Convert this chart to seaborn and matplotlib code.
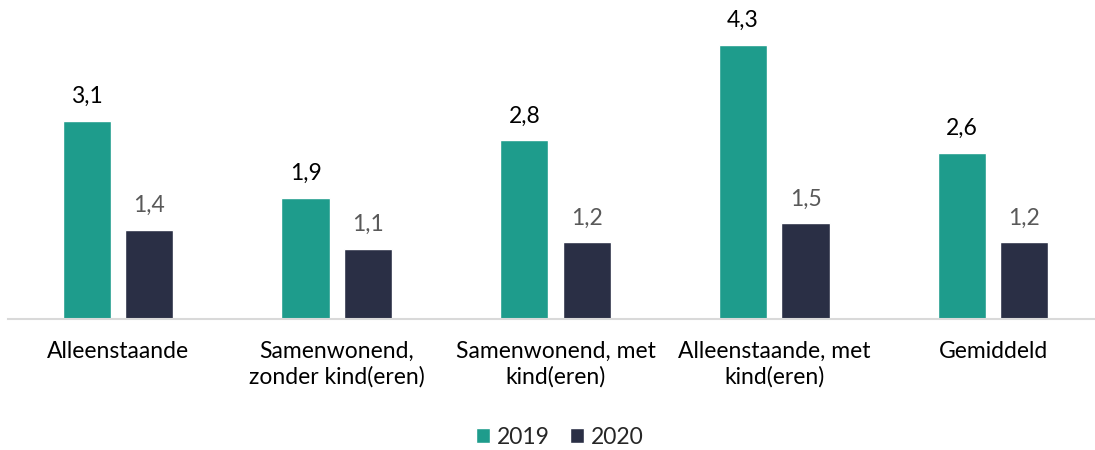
import matplotlib
matplotlib.use("Agg")
import matplotlib.pyplot as plt
import seaborn as sns
import pandas as pd
from matplotlib.patches import Patch

categories = ["Alleenstaande", "Samenwonend,\nzonder kind(eren)", "Samenwonend, met\nkind(eren)",
              "Alleenstaande, met\nkind(eren)", "Gemiddeld"]
years = ["2019", "2020"]
values_2019 = [3.1, 1.9, 2.8, 4.3, 2.6]
values_2020 = [1.4, 1.1, 1.2, 1.5, 1.2]

colors = {"2019": "#1E9C8C", "2020": "#2A2F45"}
label_colors = {"2019": "#000000", "2020": "#595959"}

df = pd.DataFrame({
    "categorie": categories * 2,
    "jaar": ["2019"] * len(categories) + ["2020"] * len(categories),
    "waarde": values_2019 + values_2020,
})

sns.set_theme(style="white")
plt.rcParams["font.family"] = ["Lato", "DejaVu Sans"]

FS = 16.5

fig = plt.figure(figsize=(10.95, 4.5), dpi=100)
ax = fig.add_axes([8 / 1095, 1 - 319 / 450, 1087 / 1095, 319 / 450])

sns.barplot(data=df, x="categorie", y="waarde", hue="jaar", palette=colors,
            width=0.572, gap=0.23, ax=ax, legend=False, saturation=1)

for container, yr in zip(ax.containers, years):
    labels = [f"{v:.1f}".replace(".", ",") for v in container.datavalues]
    ax.bar_label(container, labels=labels, padding=10, fontsize=FS, color=label_colors[yr])

ax.set_ylim(0, 5)
ax.set_xlim(-0.503, 4.466)
ax.set_xlabel("")
ax.set_ylabel("")
ax.set_yticks([])
for s in ["top", "right", "left"]:
    ax.spines[s].set_visible(False)
ax.spines["bottom"].set_color("#D9D9D9")
ax.spines["bottom"].set_linewidth(1.5)
ax.tick_params(axis="x", length=0, pad=16, labelsize=FS, colors="#000000")
for t in ax.get_xticklabels():
    t.set_linespacing(1.2)

handles = [Patch(facecolor=colors[y], label=y) for y in years]
fig.legend(handles=handles, loc="center", bbox_to_anchor=(560 / 1095, 1 - 437 / 450),
           ncol=2, frameon=False, fontsize=FS, handlelength=0.6, handleheight=0.6,
           handletextpad=0.3, columnspacing=0.9)

fig.savefig("out.png", dpi=100)
